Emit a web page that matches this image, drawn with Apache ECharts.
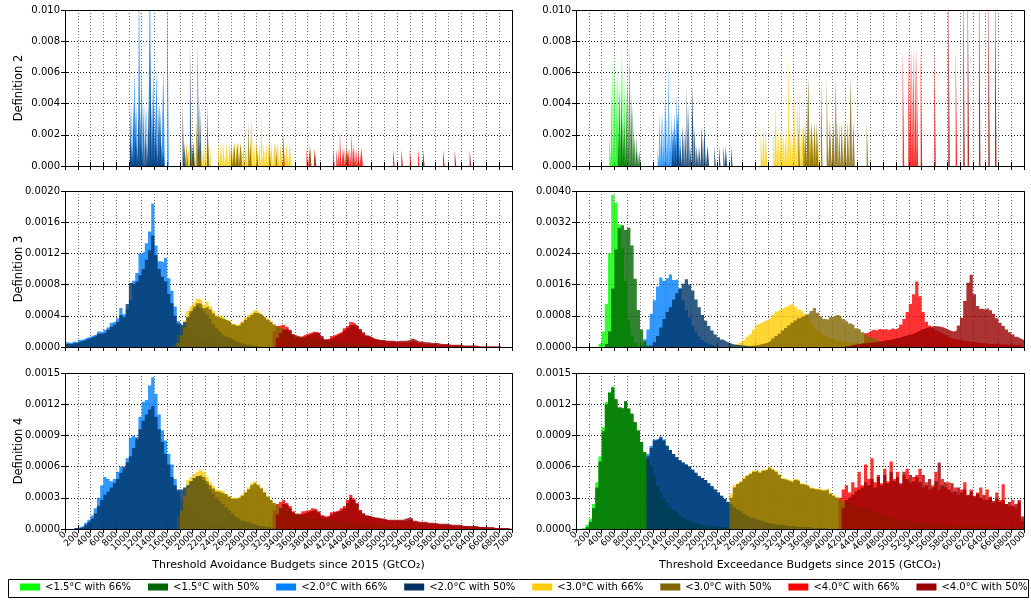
<!DOCTYPE html>
<html><head><meta charset="utf-8">
<script src="https://cdn.jsdelivr.net/npm/echarts@6/dist/echarts.min.js"></script>
<style>html,body{margin:0;padding:0;background:#fff}#c{width:1031px;height:601px}</style>
</head><body><div id="c"></div>
<script>
// ================= DATA =================
// series names & colours (legend order)
const NAMES = ['<1.5°C with 66%','<1.5°C with 50%','<2.0°C with 66%','<2.0°C with 50%','<3.0°C with 66%','<3.0°C with 50%','<4.0°C with 66%','<4.0°C with 50%'];
const COLORS = ['#00ff00','#006400','#0080ff','#003366','#ffcc00','#806600','#ff0000','#990000'];
const X_MIN = 0, X_MAX = 7000, X_STEP = 200;
const Y_MAX = [0.010, 0.0020, 0.0040, 0.0015];   // def2, def3-left, def3-right, def4
const Y_STEP = [0.002, 0.0004, 0.0008, 0.0003];
const UNIT = 1e-5;      // values below are in units of 1e-5 (density per GtCO2)
const BIN = 50;         // histogram bin width (GtCO2) for definitions 3 and 4
const BAR_W = 24;       // bar width (GtCO2) for definition 2

// ---- Definition 2, avoidance (bar left edges / heights) ----
const d2L_b66_x = [1017,1043,1085,1121,1158,1200,1278,1330,1382,1434,1486,1539,1601];
const d2L_b66_v = [150,400,625,400,1250,625,400,1250,625,625,400,625,1250];
const d2L_n50_x = [1017,1043,1069,1095,1121,1147,1173,1199,1225,1251,1277,1303,1329,1355,1381,1407,1433,1459,1485,1511,1537,1841,1867,1956,2008,2076,2112,2227];
const d2L_n50_v = [400,150,400,400,150,400,400,150,400,400,150,400,800,400,400,400,150,400,400,150,100,400,150,800,150,800,400,400];
const d2L_y66_x = [1850,1876,1902,1928,1954,1980,2006,2032,2058,2084,2110,2136,2162,2188,2214,2240,2266,2400,2440,2480,2530,2580,2610,2650,2690,2720,2750,2790,2830,2870,2920,2960,3000,3040,3070,3110,3150,3190,3230,3280,3330,3380,3420,3470,3520];
const d2L_y66_v = [150,150,150,150,150,150,150,150,320,150,150,150,150,150,150,150,150,150,150,150,150,150,150,150,150,150,150,150,150,150,320,150,150,150,320,150,150,150,150,150,150,150,150,150,150];
const d2L_o50_x = [1902,1980,2058,2110,2600,2650,2700,2750,2870,2900,3000,3200,3300,3834,4407,4512];
const d2L_o50_v = [150,150,290,150,150,150,150,150,290,150,150,150,150,150,150,150];
const d2L_r66_x = [3416,3782,3834,3912,4199,4277,4303,4355,4381,4407,4433,4459,4485,4511,4537,4563,4589,4642,5138,5399,5529];
const d2L_r66_v = [220,113,113,113,113,113,220,113,113,113,113,113,220,113,113,113,113,113,113,113,113];
const d2L_dr50_x = [3900,4250,4420,5268,5607,5920,6103,6337];
const d2L_dr50_v = [105,105,105,105,105,105,105,105];

// ---- Definition 2, exceedance ----
const d2R_g66_x = [521,547,573,599,625,651,677,703,729,755];
const d2R_g66_v = [200,585,685,685,585,685,585,780,685,590];
const d2R_g50_x = [651,677,703,729,755,781,807,833,859,885,911,937,963,989];
const d2R_g50_v = [290,490,490,290,290,490,590,780,490,390,200,200,100,100];
const d2R_b66_x = [1276,1302,1328,1354,1391,1417,1443,1469,1495,1536,1573,1599,1625];
const d2R_b66_v = [115,345,345,345,460,345,690,230,345,345,460,460,230];
const d2R_n50_x = [1495,1521,1547,1588,1625,1667,1703,1729,1755,1781,1818,1849,1885,1922,1963,2005,2057,2161,2234,2302,2338,2422];
const d2R_n50_v = [260,260,260,345,130,260,260,520,390,130,520,260,130,130,260,260,130,130,130,130,130,130];
const d2R_y66_x = [2885,2927,2963,3083,3109,3135,3161,3187,3213,3239,3265,3291,3317,3343,3370,3406,3432,3458,3489,3536,3578,3620,3656,3682,3734,3776];
const d2R_y66_v = [250,250,250,250,500,250,250,250,250,250,250,250,750,250,250,500,250,500,500,250,250,250,250,250,250,250];
const d2R_o50_x = [3474,3552,3578,3630,3682,3724,3760,3828,3916,3968,4021,4057,4083,4109,4151,4203,4245,4291,4333,4541];
const d2R_o50_v = [285,285,285,575,285,285,285,575,575,285,285,575,285,285,285,285,285,575,285,285];
const d2R_r66_x = [5104,5192,5218,5244,5270,5296,5322,5385,5599,5932];
const d2R_r66_v = [775,775,775,775,775,775,775,775,775,775];
const d2R_dr50_x = [5817,6051,6119,6296,6442,6547];
const d2R_dr50_v = [1250,1250,1250,1250,1250,1250];

// ---- Definition 3, avoidance (first bin start, then values per 50 GtCO2 bin) ----
const d3L_b66_start = 0;
const d3L_b66 = [6,5,7,6,9,10,12,13,15,16, 20,19,22,25,31,33,37,50,42,48, 60,85,95,120,122,133,148,184,130,110, 109,114,88,72,52,33,27,23,20,16, 14,12,10,9,8,7,6,5,4,4, 3,3,2,2,1,1];
const d3L_n50_start = 0;
const d3L_n50 = [4,4,5,5,7,8,10,11,13,14, 17,17,19,22,26,29,32,41,38,55, 82,80,84,92,100,112,124,143,118,100, 90,84,68,56,40,30,28,32,38,44, 48,53,50,46,41,36,29,24,20,16, 13,11,9,7,5,4,3,3,2,2,1];
const d3L_y66_start = 1700;
const d3L_y66 = [5,15,28,34,46,52,57,62,60,54, 58,52,46,41,39,38,35,33,30,28, 30,33,38,41,44,47,45,42,39,36, 33,29,26,24,21,18,15,13,12,11, 10,9,9,8,8,7,7,6,6,6, 5,5,5,4,4,4,3,3,3,3, 2,2,2,2,2,1,1,1,1,1,1];
const d3L_o50_start = 1750;
const d3L_o50 = [5,15,25,38,46,52,56,55,50,52, 48,43,39,37,36,34,32,29,27,28, 31,35,38,41,44,43,41,38,35,32, 29,26,24,22,19,17,15,14,13,12, 11,10,10,9,9,8,8,7,7,6, 6,6,5,5,5,4,4,4,3,3, 3,3,2,2,2,2,2,1,1,1,1,1,1];
const d3L_r66_start = 3250;
const d3L_r66 = [20,27,28,29,26,22,16,14,13,15, 17,18,20,19,17,12,9,11,14,16, 18,20,24,27,32,30,26,21,17,14, 12,10,9,8,8,7,7,7,6,6, 6,6,6,8,6,5,5,4,4,4, 3,3,3,3,2,2,2,2,2,1,1,1,1,1];
const d3L_dr50_start = 3300;
const d3L_dr50 = [12,18,22,24,21,16,13,12,13,15, 16,18,19,18,14,10,10,12,14,16, 18,21,24,28,29,27,23,19,15,13, 11,10,9,9,8,8,8,7,8,8, 8,9,11,9,7,7,6,6,5,5, 5,4,4,4,3,3,3,3,2,2, 2,2,2,1,1,1,1,1,1,1,1];

// ---- Definition 3, exceedance ----
const d3R_g66_start = 350;
const d3R_g66 = [8,40,110,240,390,370,315,255,170,70, 30,10,4];
const d3R_g50_start = 450;
const d3R_g50 = [8,40,150,250,305,312,300,306,260,175, 95,45,15,4,1];
const d3R_b66_start = 1000;
const d3R_b66 = [3,20,45,85,120,155,178,170,176,186, 172,174,150,120,95,75,55,40,27,18, 11,7,4,2,1];
const d3R_n50_start = 1150;
const d3R_n50 = [3,12,28,50,72,90,102,122,138,150, 162,174,160,145,122,102,82,67,54,42, 32,25,19,14,11,8,6,5,4,3, 2,2,1,1];
const d3R_y66_start = 2350;
const d3R_y66 = [2,4,6,10,15,20,26,33,45,57, 62,66,70,74,82,91,96,100,104,108, 113,104,96,91,85,75,62,50,42,36, 30,25,21,19,17,15,13,12,11,10, 9,8,7,6,6,5,5,4,4,3, 3,3,2,2,2,1,1,1];
const d3R_o50_start = 2750;
const d3R_o50 = [3,5,7,9,11,16,22,28,34,42, 49,56,62,68,74,78,82,86,92,100, 88,78,72,70,76,80,83,78,72,66, 60,56,48,44,38,32,26,23,19,15, 12,10,8,7,6,6,5,4,4,3, 3,2,2,2,1,1];
const d3R_r66_start = 4450;
const d3R_r66 = [10,35,40,45,42,47,44,46,43,48, 45,50,58,72,90,110,135,168,130,90, 65,55,48,42,38,33,28,24,21,19, 18,17,15,14,13,12,11,10,9,9, 8,8,8,7,7,6,6,6,5,5, 5];
const d3R_dr50_start = 4200;
const d3R_dr50 = [2,4,6,7,8,9,10,11,12,13, 14,15,17,18,20,22,23,26,28,31, 33,36,40,44,47,50,52,54,53,52, 50,46,42,40,42,55,75,118,165,185, 135,105,98,96,100,94,85,74,62,54, 45,38,32,26,22,18];

// ---- Definition 4, avoidance ----
const d4L_b66_start = 150;
const d4L_b66 = [1,2,3,6,9,13,20,30,42,50, 48,46,48,55,60,58,68,88,90,86, 108,122,124,138,146,130,110,95,85,72, 62,48,36,27,21,17,14,12,10,9, 7,6,5,5,4,4,3,3,2,2, 2,1,1];
const d4L_n50_start = 150;
const d4L_n50 = [1,1,2,4,7,10,15,22,28,33, 36,40,44,48,54,60,64,70,78,88, 96,104,110,115,118,108,96,84,72,62, 50,42,38,38,40,42,46,49,51,50, 47,43,38,34,30,27,24,21,18,15, 12,10,8,7,6,5,4,3,3,2, 2,1,1];
const d4L_y66_start = 1750;
const d4L_y66 = [12,28,40,47,50,53,55,57,55,50, 45,41,38,37,36,34,32,30,30,31, 33,36,40,44,46,43,40,36,32,28, 25,23,21,18,16,15,14,13,12,11, 10,10,10,9,9,9,8,8,7,7, 6,6,6,5,5,5,4,4,4,4, 3,3,3,3,2,2,2,2,2,2, 1,1,1,1];
const d4L_o50_start = 1800;
const d4L_o50 = [18,32,40,45,49,51,52,50,46,42, 39,36,35,34,33,31,29,29,30,32, 35,38,42,44,42,39,35,31,28,25, 23,21,19,17,16,15,14,13,12,11, 11,10,10,10,9,9,8,8,8,7, 7,7,6,6,6,5,5,5,4,4, 4,4,3,3,3,3,3,2,2,2, 2,2,1,1,1,1];
const d4L_r66_start = 3250;
const d4L_r66 = [18,24,26,28,25,22,17,15,15,17, 18,18,20,19,17,13,12,13,16,17, 18,20,22,28,33,29,25,18,15,13, 12,11,10,10,9,9,8,8,8,8, 8,8,9,9,7,6,6,6,5,5, 5,5,4,4,4,4,3,3,3,3, 3,2,2,2,2,2,1,1,1,1, 1,1,1,1];
const d4L_dr50_start = 3300;
const d4L_dr50 = [14,20,24,23,20,16,14,14,15,16, 17,18,18,16,13,11,12,14,16,17, 18,20,25,30,28,24,18,15,13,12, 11,11,10,10,9,9,9,9,9,9, 10,11,10,8,7,7,7,6,6,6, 5,5,5,5,4,4,4,4,3,3, 3,3,3,2,2,2,2,2,1,1, 1,1,1,1];

// ---- Definition 4, exceedance ----
const d4R_g66_start = 100;
const d4R_g66 = [1,4,10,24,45,70,98,122,132,137, 124,116,115,122,115,110,102,94,83,73, 66,60,50,41,34,28,24,20,18,16, 13,11,9,8,6,5,4,4,3,3, 3,2,2,2,2,1,1,1,1];
const d4R_g50_start = 150;
const d4R_g50 = [2,7,20,40,65,94,120,131,136, 125,117,116,123,116,111,103,95,84,74, 67,61,51,42,35,29,25,21,18,16, 13,11,9,8,6,5,4,4,3,3, 3,2,2,2,2,1,1,1,1];
const d4R_b66_start = 1100;
const d4R_b66 = [72,80,86,87,89,86,80,76,72,69, 66,64,62,60,57,54,51,49,47,44, 41,38,35,32,29,26,24,21,19,17, 15,13,11,10,9,8,7,6,5,5, 4,4,4,3,3,3,2,2,2,2, 2,1,1,1,1,1,1];
const d4R_n50_start = 1100;
const d4R_n50 = [70,78,85,86,88,85,80,76,72,69, 66,64,62,60,57,54,51,49,47,44, 41,38,35,32,29,26,24,21,19,17, 15,13,11,10,9,8,7,6,5,5, 4,4,4,3,3,3,2,2,2,2, 2,1,1,1,1,1,1];
const d4R_y66_start = 2400;
const d4R_y66 = [34,42,44,46,50,52,54,56,57,55, 57,58,60,58,56,53,49,48,47,46, 48,47,44,43,42,40,39,39,38,38, 39,35,33,31,29,27,25,24,23,22, 22,21,20,19,17,16,15,14,12,11, 11,10,9,9,8,8,7,6,6,6, 5,5,5,5,4,4,4,4,4,4, 3,3,3,3,3,3,3,3,3,3, 2,2,2,2,2,2,2,2,2,2, 1];
const d4R_o50_start = 2400;
const d4R_o50 = [30,40,43,45,48,51,53,55,56,54, 56,57,59,57,55,52,48,47,46,45, 47,46,43,42,41,39,38,38,37,37, 38,34,32,30,28,26,25,24,23,22, 22,21,20,19,17,16,15,14,12,11, 11,10,9,9,8,8,7,7,6,6, 6,5,5,5,5,4,4,4,4,4, 4,3,3,3,3,3,3,3,3,3, 3,3,2,2,2,2,2,2,2,2, 2,1];
const d4R_r66_start = 4100;
const d4R_r66 = [30,38,42,35,45,40,55,42,62,48, 68,45,52,44,58,46,65,48,55,42, 52,58,44,50,52,58,40,45,38,42, 55,38,48,40,45,35,40,33,38,45, 32,38,30,35,40,28,38,30,25,35, 28,43,24,22,28,20,26,8];
const d4R_dr50_start = 4150;
const d4R_dr50 = [20,28,30,33,36,38,40,45,42,48, 40,50,42,52,44,55,46,50,44,55, 48,52,46,50,45,52,42,48,40,46, 64,42,45,38,44,36,40,35,38,33, 36,32,34,30,33,28,31,27,30,26, 28,24,26,22,24,28,12];

const ROW_LABELS = ['Definition 2','Definition 3','Definition 4'];
const X_TITLES = ['Threshold Avoidance Budgets since 2015 (GtCO\u2082)','Threshold Exceedance Budgets since 2015 (GtCO\u2082)'];

// ================= LAYOUT / STYLE =================
const FONT = 'DejaVu Sans';
const ALPHA = 0.8;
const COLS = [{left:65, width:447},{left:576, width:448}];
const ROWS = [{top:10, height:156},{top:191, height:156},{top:373, height:156}];
const DRAW_ORDER = [0,2,4,6,1,3,5,7];

const panels = [
  {row:0,col:0,yi:0,kind:'bar',d:{2:[d2L_b66_x,d2L_b66_v],3:[d2L_n50_x,d2L_n50_v],4:[d2L_y66_x,d2L_y66_v],5:[d2L_o50_x,d2L_o50_v],6:[d2L_r66_x,d2L_r66_v],7:[d2L_dr50_x,d2L_dr50_v]}},
  {row:0,col:1,yi:0,kind:'bar',d:{0:[d2R_g66_x,d2R_g66_v],1:[d2R_g50_x,d2R_g50_v],2:[d2R_b66_x,d2R_b66_v],3:[d2R_n50_x,d2R_n50_v],4:[d2R_y66_x,d2R_y66_v],5:[d2R_o50_x,d2R_o50_v],6:[d2R_r66_x,d2R_r66_v],7:[d2R_dr50_x,d2R_dr50_v]}},
  {row:1,col:0,yi:1,kind:'hist',d:{2:[d3L_b66_start,d3L_b66],3:[d3L_n50_start,d3L_n50],4:[d3L_y66_start,d3L_y66],5:[d3L_o50_start,d3L_o50],6:[d3L_r66_start,d3L_r66],7:[d3L_dr50_start,d3L_dr50]}},
  {row:1,col:1,yi:2,kind:'hist',d:{0:[d3R_g66_start,d3R_g66],1:[d3R_g50_start,d3R_g50],2:[d3R_b66_start,d3R_b66],3:[d3R_n50_start,d3R_n50],4:[d3R_y66_start,d3R_y66],5:[d3R_o50_start,d3R_o50],6:[d3R_r66_start,d3R_r66],7:[d3R_dr50_start,d3R_dr50]}},
  {row:2,col:0,yi:3,kind:'hist',d:{2:[d4L_b66_start,d4L_b66],3:[d4L_n50_start,d4L_n50],4:[d4L_y66_start,d4L_y66],5:[d4L_o50_start,d4L_o50],6:[d4L_r66_start,d4L_r66],7:[d4L_dr50_start,d4L_dr50]}},
  {row:2,col:1,yi:3,kind:'hist',d:{0:[d4R_g66_start,d4R_g66],1:[d4R_g50_start,d4R_g50],2:[d4R_b66_start,d4R_b66],3:[d4R_n50_start,d4R_n50],4:[d4R_y66_start,d4R_y66],5:[d4R_o50_start,d4R_o50],6:[d4R_r66_start,d4R_r66],7:[d4R_dr50_start,d4R_dr50]}}
];

function histData(start, vals){
  const d = [];
  vals.forEach((v,i)=>d.push([start + i*BIN, v*UNIT]));
  d.push([start + vals.length*BIN, 0]);
  return d;
}
function barData(xs, vs){
  const d = [];
  xs.forEach((x,i)=>{ d.push([x, vs[i]*UNIT]); d.push([x + BAR_W, 0]); });
  return d;
}

const grid = [], xAxis = [], yAxis = [], series = [], graphic = [];
panels.forEach((p, g) => {
  const C = COLS[p.col], R = ROWS[p.row];
  grid.push({left:C.left, top:R.top, width:C.width, height:R.height, show:false, outerBoundsMode:'none', containLabel:false});
  const bottomRow = p.row === 2;
  const tickDec = p.yi === 0 ? 3 : 4;
  xAxis.push({type:'value', gridIndex:g, min:X_MIN, max:X_MAX, interval:X_STEP, position:'bottom',
    axisLine:{show:false}, axisTick:{show:true, inside:true, length:4, lineStyle:{color:'#000'}},
    axisLabel:{show:bottomRow, rotate:45, margin:4, fontSize:9, color:'#000', fontFamily:FONT, hideOverlap:false,
      showMinLabel:true, showMaxLabel:true, formatter:v=>String(Math.round(v))},
    splitLine:{show:true, lineStyle:{color:'#777', width:1, type:[1,2]}}});
  xAxis.push({type:'value', gridIndex:g, min:X_MIN, max:X_MAX, interval:X_STEP, position:'top',
    axisLine:{show:false}, axisTick:{show:true, inside:true, length:4, lineStyle:{color:'#000'}},
    axisLabel:{show:false}, splitLine:{show:false}});
  yAxis.push({type:'value', gridIndex:g, min:0, max:Y_MAX[p.yi], interval:Y_STEP[p.yi], position:'left',
    axisLine:{show:false}, axisTick:{show:true, inside:true, length:4, lineStyle:{color:'#000'}},
    axisLabel:{show:true, margin:5, fontSize:10, color:'#000', fontFamily:FONT, formatter:v=>v.toFixed(tickDec)},
    splitLine:{show:true, lineStyle:{color:'#222', width:1, type:[1,2]}}});
  yAxis.push({type:'value', gridIndex:g, min:0, max:Y_MAX[p.yi], interval:Y_STEP[p.yi], position:'right',
    axisLine:{show:false}, axisTick:{show:true, inside:true, length:4, lineStyle:{color:'#000'}},
    axisLabel:{show:false}, splitLine:{show:false}});
  DRAW_ORDER.forEach((k, oi) => {
    if (!p.d[k]) return;
    const data = p.kind === 'bar' ? barData(p.d[k][0], p.d[k][1]) : histData(p.d[k][0], p.d[k][1]);
    series.push({type:'line', name:NAMES[k], xAxisIndex:2*g, yAxisIndex:2*g, data, step:'end',
      symbol:'none', showSymbol:false, silent:true, animation:false, clip:true, z:2+oi,
      itemStyle:{color:COLORS[k]}, lineStyle:{width:0, opacity:0},
      areaStyle:{color:COLORS[k], opacity:ALPHA}});
  });
  graphic.push({type:'rect', z:100, silent:true, shape:{x:C.left+0.5, y:R.top+0.5, width:C.width, height:R.height},
    style:{fill:null, stroke:'#000', lineWidth:1}});
});
ROWS.forEach((R,i)=>{
  graphic.push({type:'text', z:100, x:19, y:R.top + R.height/2, rotation:Math.PI/2,
    style:{text:ROW_LABELS[i], font:'11.5px "DejaVu Sans"', fill:'#000', textAlign:'center', textVerticalAlign:'middle'}});
});
COLS.forEach((C,i)=>{
  graphic.push({type:'text', z:100, x:C.left + C.width/2, y:565,
    style:{text:X_TITLES[i], font:'11px "DejaVu Sans"', fill:'#000', textAlign:'center', textVerticalAlign:'middle'}});
});
graphic.push({type:'rect', z:100, silent:true, shape:{x:8.5, y:579.5, width:1020, height:18}, style:{fill:null, stroke:'#000', lineWidth:1}});

const chart = echarts.init(document.getElementById('c'), null, {renderer:'canvas'});
chart.setOption({
  animation:false,
  backgroundColor:'#fff',
  grid, xAxis, yAxis, series, graphic,
  legend:{show:true, left:20, top:582, itemWidth:20, itemHeight:7, itemGap:17, icon:'rect', padding:0,
    textStyle:{fontSize:10, fontFamily:FONT, color:'#000'},
    data:NAMES.map((n,i)=>({name:n, icon:'rect', itemStyle:{color:COLORS[i], opacity:1, borderWidth:0}, lineStyle:{width:0, opacity:0}}))},
  tooltip:{show:false}
});
</script></body></html>
